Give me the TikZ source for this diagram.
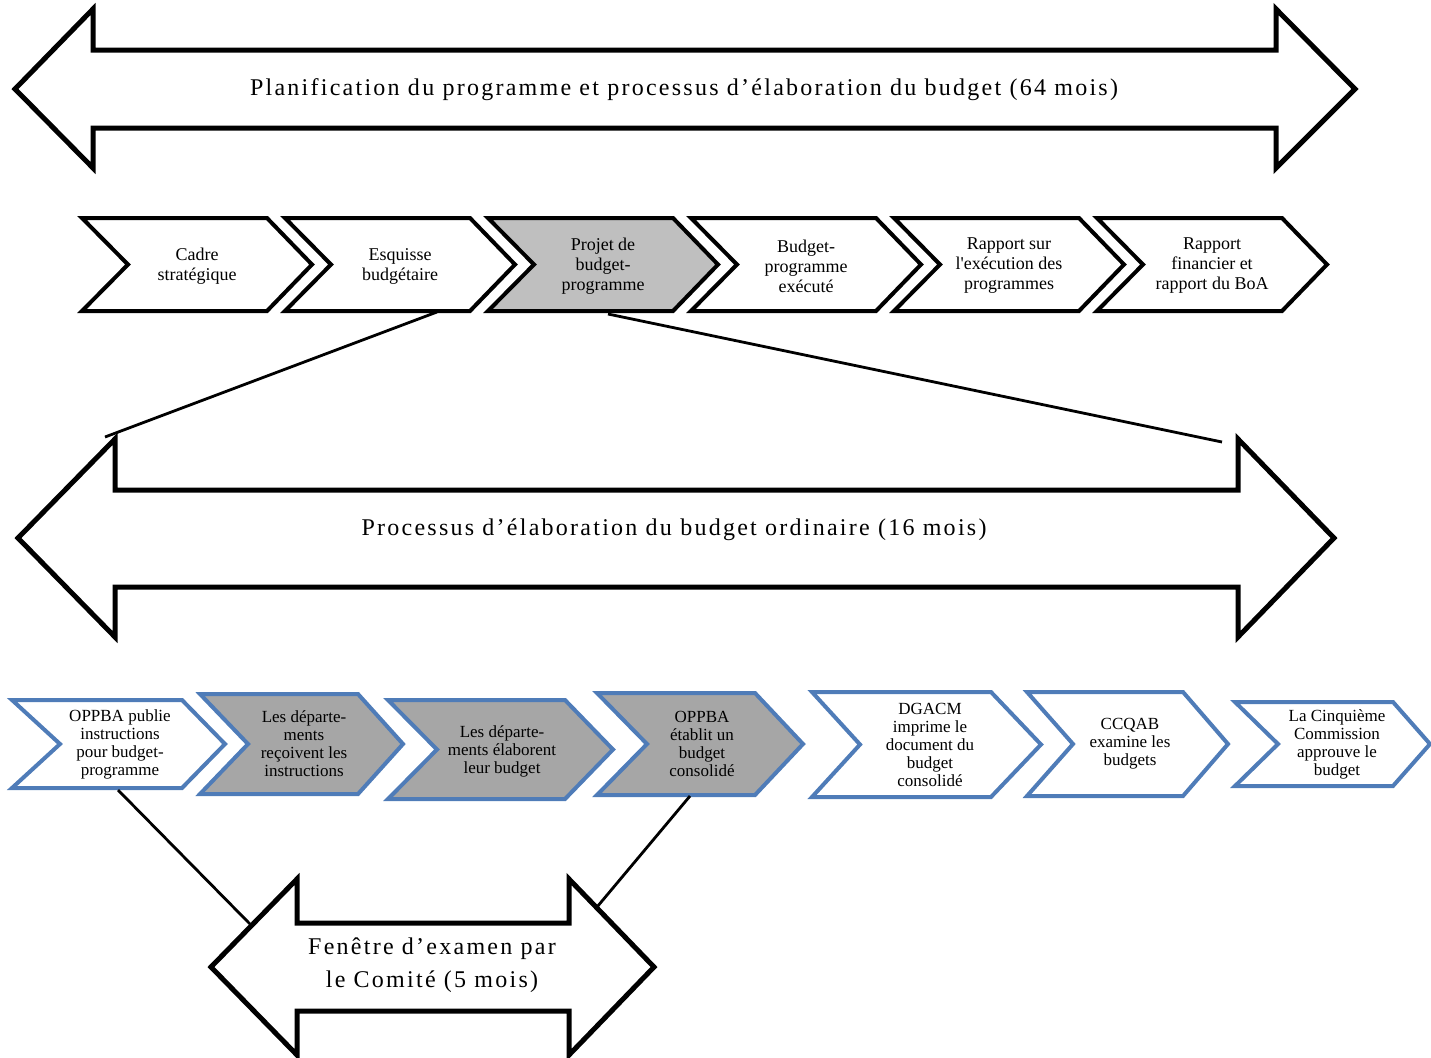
\documentclass[tikz,border=0pt]{standalone}
\usepackage{fontspec}
\setmainfont{Liberation Serif}

\definecolor{chevblue}{HTML}{4F7CB8}
\definecolor{topgray}{HTML}{BFBFBF}
\definecolor{botgray}{HTML}{A6A6A6}

% chevron: left, top, bottom, top right, tip, notch, style
\newcommand{\stepchev}[7]{%
    \draw[#7] (#1,#2) -- (#4,#2) -- (#5,{(#2+#3)/2}) -- (#4,#3) -- (#1,#3)
        -- (#6,{(#2+#3)/2}) -- cycle;}

\begin{document}
\begin{tikzpicture}[x=0.5pt, y=-0.5pt,
    bigarrow/.style={draw=black, line width=2.5pt, fill=white, line join=miter},
    topchev/.style={draw=black, line width=2pt, line join=miter},
    botchev/.style={draw=chevblue, line width=2pt, line join=miter},
    link/.style={draw=black, line width=1.4pt},
    bigtext/.style={font=\fontsize{12}{16.5}\selectfont\addfontfeature{LetterSpace=9.4}, align=center},
    toptext/.style={font=\fontsize{9}{10}\selectfont, align=center},
    bottext/.style={font=\fontsize{8.5}{9}\selectfont, align=center}]

    \useasboundingbox (0,0) rectangle (1431,1057);

    %----- TOP DOUBLE ARROW -----
    \draw[bigarrow] (15,89) -- (93,9) -- (93,50) -- (1276,50) -- (1276,9) -- (1355,89)
        -- (1276,168) -- (1276,128) -- (93,128) -- (93,168) -- cycle;
    \node[bigtext] (plan) at (684,90) {Planification du programme et processus d’élaboration du budget (64 mois)};

    %----- TOP ROW OF STEPS -----
    \foreach \x/\name/\txt/\col in {
        82/cadre/{Cadre\\stratégique}/white,
        285/esq/{Esquisse\\budgétaire}/white,
        488/projet/{Projet de\\budget-\\programme}/topgray,
        691/exec/{Budget-\\programme\\exécuté}/white,
        894/rapexec/{Rapport sur\\l\textquotesingle exécution des\\programmes}/white,
        1097/rapfin/{Rapport\\financier et\\rapport du BoA}/white}
    {
        \stepchev{\x}{218}{311}{\x+185}{\x+230}{\x+46}{topchev, fill=\col}
        \node[toptext] (\name) at (\x+115,266) {\txt};
    }

    %----- MIDDLE DOUBLE ARROW -----
    \draw[bigarrow] (18,538) -- (115,439) -- (115,490) -- (1238,490) -- (1238,439) -- (1334,538)
        -- (1238,637) -- (1238,587) -- (115,587) -- (115,637) -- cycle;
    \node[bigtext] (ordinaire) at (674,530) {Processus d’élaboration du budget ordinaire (16 mois)};

    %----- BOTTOM ROW OF STEPS -----
    \stepchev{12}{700}{788}{182}{225}{60}{botchev, fill=white}
    \stepchev{200}{694}{794}{358}{403}{248}{botchev, fill=botgray}
    \stepchev{388}{700}{799}{565}{613}{437}{botchev, fill=botgray}
    \stepchev{597}{693}{795}{755}{803}{647}{botchev, fill=botgray}
    \stepchev{812}{692}{797}{991}{1041}{860}{botchev, fill=white}
    \stepchev{1027}{692}{796}{1183}{1228}{1073}{botchev, fill=white}
    \stepchev{1235}{702}{786}{1393}{1430}{1278}{botchev, fill=white}

    \node[bottext] (publie) at (120,744) {OPPBA publie\\instructions\\pour budget-\\programme};
    \node[bottext] (recoivent) at (304,744) {Les départe-\\ments\\reçoivent les\\instructions};
    \node[bottext] (elaborent) at (502,751) {Les départe-\\ments élaborent\\leur budget};
    \node[bottext] (etablit) at (702,744) {OPPBA\\établit un\\budget\\consolidé};
    \node[bottext] (imprime) at (930,745) {DGACM\\imprime le\\document du\\budget\\consolidé};
    \node[bottext] (ccqab) at (1130,744) {CCQAB\\examine les\\budgets};
    \node[bottext] (cinquieme) at (1337,744) {La Cinquième\\Commission\\approuve le\\budget};

    %----- BOTTOM DOUBLE ARROW -----
    \draw[bigarrow] (211,967) -- (297,879) -- (297,923) -- (569,923) -- (569,879) -- (654,967)
        -- (569,1055) -- (569,1011) -- (297,1011) -- (297,1055) -- cycle;
    \node[bigtext] (fenetre) at (432,965) {Fenêtre d’examen par\\le Comité (5 mois)};

    %----- ZOOM LINES -----
    \coordinate (esq-s) at (437,312);
    \coordinate (projet-s) at (608,314);
    \coordinate (ord-l) at (105,437);
    \coordinate (ord-r) at (1222,442);
    \coordinate (publie-s) at (118,790);
    \coordinate (etablit-s) at (690,796);
    \coordinate (fen-l) at (250,924);
    \coordinate (fen-r) at (597,907);

    \draw[link] (esq-s) -- (ord-l);
    \draw[link] (projet-s) -- (ord-r);
    \draw[link] (publie-s) -- (fen-l);
    \draw[link] (etablit-s) -- (fen-r);

\end{tikzpicture}
\end{document}
